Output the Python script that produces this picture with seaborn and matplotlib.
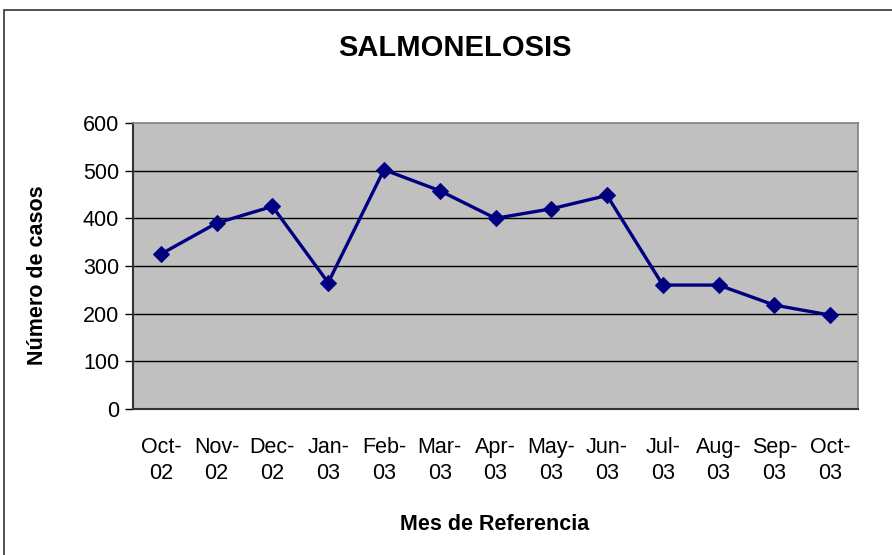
import matplotlib
matplotlib.use("Agg")
import matplotlib.pyplot as plt
import seaborn as sns
import pandas as pd
from matplotlib.patches import Rectangle

months = ["Oct-\n02", "Nov-\n02", "Dec-\n02", "Jan-\n03", "Feb-\n03", "Mar-\n03", "Apr-\n03",
          "May-\n03", "Jun-\n03", "Jul-\n03", "Aug-\n03", "Sep-\n03", "Oct-\n03"]
cases = [325, 390, 425, 265, 502, 458, 400, 420, 448, 260, 260, 218, 197]
yticks = [0, 100, 200, 300, 400, 500, 600]

sns.set_theme(style="white")
plt.rcParams['font.family'] = ['Liberation Sans', 'DejaVu Sans']
plt.rcParams['text.color'] = 'black'
plt.rcParams['axes.labelcolor'] = 'black'
plt.rcParams['xtick.color'] = 'black'
plt.rcParams['ytick.color'] = 'black'

W, H = 892, 555
fig = plt.figure(figsize=(W / 100, H / 100), dpi=100)
fig.patch.set_facecolor("white")
ax = fig.add_axes([133 / W, 1 - 409 / H, (858 - 133) / W, (409 - 123) / H])

# outer chart border (cropped on right and bottom)
fig.add_artist(Rectangle((4 / W, -0.1), 1.2, 1.1 - 10 / H, transform=fig.transFigure,
                         fill=False, edgecolor="#333333", linewidth=1.2))

df = pd.DataFrame({"month": months, "cases": cases, "idx": range(len(months))})
ax.set_facecolor("#C0C0C0")
for y in yticks[1:-1]:
    ax.axhline(y, color="black", linewidth=1.0, zorder=1)

sns.lineplot(data=df, x="idx", y="cases", ax=ax, color="#000080", linewidth=2.4,
             marker="D", markersize=8.5, markeredgecolor="#000080", zorder=3)

ax.set_xlim(-0.5, len(months) - 0.5)
ax.set_ylim(0, 600)
ax.set_yticks(yticks)
ax.set_yticklabels([str(v) for v in yticks], fontsize=15.5, color="black")
ax.set_xticks(range(len(months)))
ax.set_xticklabels(months, fontsize=15.5, linespacing=1.35, color="black")
ax.set_xticks([i - 0.5 for i in range(len(months) + 1)], minor=True)
ax.tick_params(axis="x", which="major", length=0, pad=20)
ax.tick_params(axis="x", which="minor", length=6, width=1, color="black", direction="out")
ax.tick_params(axis="y", which="major", length=6, width=1, color="black", direction="out",
               left=True, pad=4)

for side in ["left", "bottom"]:
    ax.spines[side].set_color("#333333")
    ax.spines[side].set_linewidth(1.5)
for side in ["top", "right"]:
    ax.spines[side].set_color("#808080")
    ax.spines[side].set_linewidth(1.2)

ax.set_xlabel("")
ax.set_ylabel("")
fig.text(455 / W, 1 - 48 / H, "SALMONELOSIS", ha="center", va="center",
         fontsize=21, fontweight="bold", color="black")
fig.text(495 / W, 1 - 524 / H, "Mes de Referencia", ha="center", va="center",
         fontsize=15.5, fontweight="bold", color="black")
fig.text(38 / W, 1 - 275 / H, "Número de casos", ha="center", va="center",
         fontsize=15.5, fontweight="bold", rotation=90, color="black")

fig.savefig("out.png", dpi=100)
